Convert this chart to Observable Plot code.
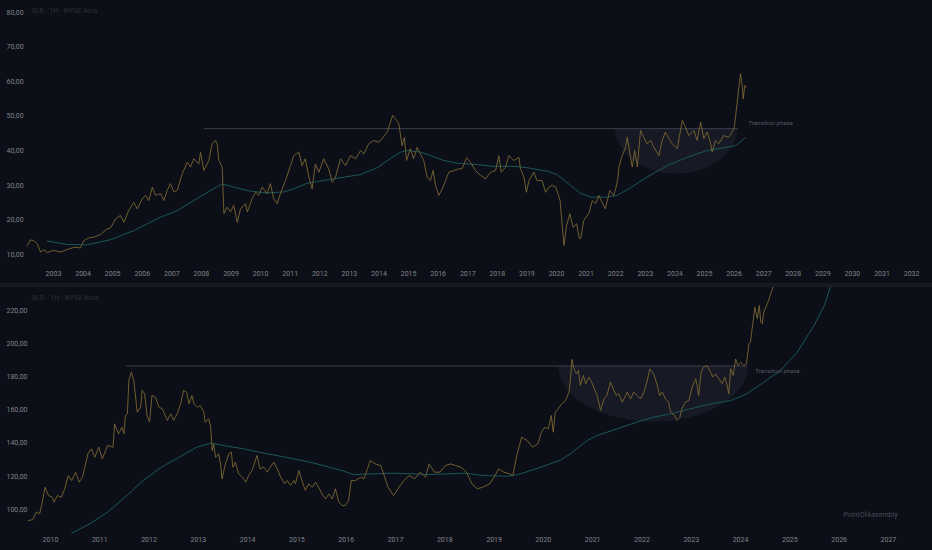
<!DOCTYPE html>
<html>
<head>
<meta charset="utf-8">
<script src="https://cdn.jsdelivr.net/npm/d3@7"></script>
<script src="https://cdn.jsdelivr.net/npm/@observablehq/plot@0.6"></script>
<style>
  html, body { margin: 0; padding: 0; background: #0c0f17; }
  #chart { width: 932px; height: 550px; position: relative; overflow: hidden; background: #0c0f17; }
  #chart svg { display: block; overflow: hidden; }
  .band { height: 4px; background: #161a23; }
</style>
</head>
<body>
<div id="chart"></div>
<script>
// ---------- DATA ----------
const xleTitle = "XLE · 1H · NYSE Arca";
const gldTitle = "GLD · 1H · NYSE Arca";
const phaseLabel = "Transition phase";
const watermark = "PointOfAssembly";

const xleYears = d3.range(2003, 2033);
const gldYears = d3.range(2010, 2028);
const xleTicks = [10, 20, 30, 40, 50, 60, 70, 80];
const gldTicks = [100, 120, 140, 160, 180, 200, 220];

// [year, price]
const xlePrice = [
  [2002.11,12.6],[2002.22,14.2],[2002.33,14.0],[2002.45,13.1],[2002.56,10.7],[2002.67,11.4],[2002.79,10.6],
  [2003.00,11.2],[2003.24,10.7],[2003.46,11.4],[2003.69,12.1],[2003.91,11.9],[2004.02,14.0],[2004.19,14.8],
  [2004.36,15.0],[2004.59,15.8],[2004.81,17.4],[2004.93,17.7],[2005.10,20.3],[2005.26,21.3],[2005.38,19.3],
  [2005.54,22.7],[2005.71,25.1],[2005.83,23.2],[2006.00,26.1],[2006.11,27.1],[2006.22,25.6],[2006.34,29.5],
  [2006.45,27.1],[2006.62,27.6],[2006.73,25.6],[2006.84,28.5],[2006.95,30.5],[2007.07,28.1],[2007.18,28.5],
  [2007.35,33.3],[2007.52,36.7],[2007.63,35.3],[2007.74,37.7],[2007.91,36.2],[2007.97,39.6],[2008.08,34.3],
  [2008.25,37.2],[2008.36,42.0],[2008.47,43.0],[2008.53,42.0],[2008.59,37.2],[2008.70,35.3],[2008.76,21.8],
  [2008.87,23.7],[2008.98,22.3],[2009.09,24.2],[2009.21,19.3],[2009.32,23.2],[2009.49,24.7],[2009.55,22.3],
  [2009.71,26.1],[2009.83,28.0],[2009.94,27.1],[2010.05,29.5],[2010.22,27.6],[2010.33,30.5],[2010.44,26.1],
  [2010.56,24.7],[2010.67,27.6],[2010.84,31.4],[2011.01,35.7],[2011.12,38.6],[2011.29,39.6],[2011.40,35.7],
  [2011.51,37.7],[2011.63,32.4],[2011.74,29.0],[2011.85,36.2],[2011.97,33.8],[2012.13,37.7],[2012.30,34.8],
  [2012.42,30.9],[2012.53,32.4],[2012.70,37.7],[2012.87,35.7],[2013.04,38.6],[2013.21,37.7],[2013.38,40.1],
  [2013.49,39.1],[2013.65,42.0],[2013.82,43.0],[2013.99,42.5],[2014.10,43.5],[2014.28,45.4],[2014.46,50.2],
  [2014.56,49.2],[2014.67,47.8],[2014.78,41.5],[2014.86,43.9],[2014.93,37.2],[2015.06,40.6],[2015.17,37.7],
  [2015.29,41.0],[2015.40,39.1],[2015.51,37.2],[2015.63,32.4],[2015.74,31.4],[2015.83,34.3],[2015.91,30.0],
  [2016.02,27.1],[2016.14,29.0],[2016.25,31.4],[2016.36,33.8],[2016.53,34.3],[2016.70,34.8],[2016.81,34.8],
  [2016.96,38.0],[2017.09,36.7],[2017.26,34.3],[2017.43,32.9],[2017.60,31.9],[2017.77,33.8],[2017.94,34.3],
  [2018.05,38.6],[2018.13,33.8],[2018.28,35.3],[2018.39,38.6],[2018.56,37.2],[2018.73,38.1],[2018.78,34.8],
  [2018.90,32.4],[2018.98,28.0],[2019.07,31.4],[2019.23,33.8],[2019.34,31.4],[2019.51,31.4],[2019.63,28.0],
  [2019.74,29.5],[2019.85,30.0],[2019.97,29.5],[2020.07,27.1],[2020.12,25.6],[2020.25,12.6],[2020.34,18.4],
  [2020.45,21.8],[2020.56,17.9],[2020.68,18.9],[2020.76,15.0],[2020.81,14.5],[2020.92,19.8],[2021.09,21.8],
  [2021.21,25.6],[2021.32,24.7],[2021.43,27.1],[2021.54,25.1],[2021.65,23.2],[2021.80,28.5],[2021.93,27.1],
  [2022.00,29.0],[2022.07,31.9],[2022.11,35.3],[2022.22,38.6],[2022.33,41.0],[2022.39,43.9],[2022.48,39.1],
  [2022.56,35.3],[2022.64,40.1],[2022.73,35.3],[2022.84,45.9],[2022.95,43.9],[2023.06,42.0],[2023.18,43.0],
  [2023.29,41.0],[2023.46,38.6],[2023.57,43.0],[2023.68,45.4],[2023.80,43.5],[2023.91,42.0],[2024.08,40.6],
  [2024.25,48.8],[2024.36,46.8],[2024.47,44.4],[2024.64,45.9],[2024.75,43.0],[2024.87,48.3],[2024.98,43.5],
  [2025.09,45.4],[2025.20,42.5],[2025.26,39.6],[2025.37,43.0],[2025.48,42.0],[2025.65,44.4],[2025.82,43.9],
  [2025.93,45.4],[2026.01,46.8],[2026.10,53.6],[2026.15,57.4],[2026.22,62.3],[2026.28,58.4],[2026.31,55.0],
  [2026.36,58.9],[2026.42,58.4]
];

const xleAverage = [
  [2002.79,13.9],[2003.46,12.9],[2004.14,12.8],[2004.93,14.3],[2005.71,16.9],[2006.62,20.8],[2007.18,22.7],
  [2007.74,25.6],[2008.31,28.5],[2008.70,30.4],[2009.09,29.5],[2009.66,28.3],[2010.22,27.8],[2010.78,28.1],
  [2011.12,29.0],[2011.57,30.6],[2012.47,31.9],[2013.37,33.1],[2013.94,35.1],[2014.20,36.7],[2014.73,39.6],
  [2014.95,40.1],[2015.40,39.6],[2015.74,38.6],[2016.19,37.2],[2016.64,36.4],[2017.32,36.0],[2017.88,35.5],
  [2018.56,35.5],[2019.01,35.1],[2019.69,34.1],[2020.02,33.1],[2020.47,30.0],[2020.81,27.7],[2021.15,26.6],
  [2021.71,26.6],[2022.05,27.1],[2022.50,29.3],[2023.06,32.4],[2023.74,35.7],[2024.41,38.1],[2025.09,40.1],
  [2025.65,40.9],[2026.05,41.5],[2026.20,42.5],[2026.39,43.9]
];

const gldPrice = [
  [2009.55,93.4],[2009.64,93.8],[2009.71,98.4],[2009.78,97.4],[2009.82,102.4],[2009.89,113.4],[2009.96,108.4],
  [2010.04,107.4],[2010.07,104.4],[2010.14,108.4],[2010.22,107.4],[2010.29,112.5],[2010.36,120.5],[2010.43,117.5],
  [2010.51,122.5],[2010.58,116.5],[2010.65,119.5],[2010.76,133.6],[2010.83,136.6],[2010.90,131.5],[2010.98,137.6],
  [2011.05,130.6],[2011.16,138.6],[2011.27,137.6],[2011.30,151.7],[2011.38,145.6],[2011.45,149.6],[2011.49,145.6],
  [2011.52,156.7],[2011.56,157.7],[2011.59,177.8],[2011.64,182.8],[2011.69,177.8],[2011.76,158.7],[2011.83,161.7],
  [2011.86,171.8],[2011.91,169.8],[2011.96,156.7],[2012.01,152.7],[2012.06,168.8],[2012.13,167.7],[2012.20,161.7],
  [2012.27,160.7],[2012.37,153.7],[2012.44,157.7],[2012.50,153.7],[2012.57,157.7],[2012.64,163.7],[2012.70,171.8],
  [2012.76,170.8],[2012.81,163.7],[2012.87,168.8],[2012.91,163.7],[2012.98,161.7],[2013.04,162.7],[2013.11,158.7],
  [2013.14,152.7],[2013.21,154.7],[2013.25,149.6],[2013.28,135.6],[2013.31,139.6],[2013.35,131.5],[2013.41,133.6],
  [2013.45,127.5],[2013.48,118.5],[2013.55,127.5],[2013.62,133.6],[2013.67,134.6],[2013.70,125.5],[2013.75,128.5],
  [2013.82,121.5],[2013.89,119.5],[2013.96,116.5],[2014.02,120.5],[2014.09,123.5],[2014.19,132.6],[2014.25,124.5],
  [2014.33,125.5],[2014.40,122.5],[2014.46,125.5],[2014.53,128.5],[2014.60,124.5],[2014.67,119.5],[2014.75,115.5],
  [2014.80,117.5],[2014.87,114.5],[2014.94,117.5],[2014.97,115.5],[2015.04,123.5],[2015.10,117.5],[2015.17,111.5],
  [2015.24,115.5],[2015.31,113.4],[2015.38,116.5],[2015.44,113.4],[2015.51,109.4],[2015.58,106.4],[2015.65,109.4],
  [2015.72,106.4],[2015.78,112.5],[2015.85,104.4],[2015.92,102.4],[2015.98,102.4],[2016.05,105.4],[2016.10,117.5],
  [2016.19,117.5],[2016.29,119.5],[2016.36,118.5],[2016.43,124.5],[2016.49,129.5],[2016.59,127.5],[2016.70,126.5],
  [2016.77,120.5],[2016.85,113.4],[2016.96,108.4],[2017.07,113.4],[2017.17,117.5],[2017.28,120.5],[2017.39,118.5],
  [2017.50,122.5],[2017.61,119.5],[2017.68,127.5],[2017.79,122.5],[2017.90,122.5],[2018.01,126.5],[2018.12,127.5],
  [2018.22,126.5],[2018.33,125.5],[2018.44,122.5],[2018.55,115.5],[2018.66,112.5],[2018.77,113.4],[2018.91,115.5],
  [2019.02,120.5],[2019.09,124.5],[2019.20,122.5],[2019.31,121.5],[2019.38,120.5],[2019.46,132.6],[2019.56,143.6],
  [2019.67,141.6],[2019.78,137.6],[2019.89,139.6],[2019.96,146.6],[2020.03,149.6],[2020.10,148.6],[2020.16,156.7],
  [2020.20,146.6],[2020.24,158.7],[2020.30,160.7],[2020.37,163.7],[2020.45,165.7],[2020.52,170.8],[2020.55,178.8],
  [2020.58,190.5],[2020.62,184.8],[2020.67,181.8],[2020.71,183.8],[2020.75,174.8],[2020.81,180.8],[2020.86,175.8],
  [2020.92,179.8],[2020.98,176.8],[2021.02,173.8],[2021.09,168.8],[2021.16,159.7],[2021.23,166.7],[2021.29,168.8],
  [2021.36,176.8],[2021.43,171.8],[2021.48,168.8],[2021.53,169.8],[2021.60,164.7],[2021.67,168.8],[2021.70,170.8],
  [2021.77,166.7],[2021.83,170.8],[2021.90,168.8],[2021.97,166.7],[2022.04,170.8],[2022.10,176.8],[2022.16,184.8],
  [2022.21,182.8],[2022.25,180.8],[2022.31,174.8],[2022.36,168.8],[2022.41,170.8],[2022.48,166.7],[2022.54,164.7],
  [2022.58,158.7],[2022.66,156.7],[2022.71,153.7],[2022.77,155.6],[2022.81,160.7],[2022.88,164.7],[2022.95,165.7],
  [2023.02,173.8],[2023.09,178.8],[2023.12,174.8],[2023.15,168.8],[2023.20,182.8],[2023.25,185.8],[2023.32,186.8],
  [2023.39,182.8],[2023.44,179.8],[2023.49,181.8],[2023.56,178.8],[2023.63,175.8],[2023.68,179.8],[2023.73,174.8],
  [2023.76,169.8],[2023.80,184.8],[2023.85,180.8],[2023.90,190.8],[2023.95,186.8],[2024.00,188.8],[2024.07,186.8],
  [2024.12,187.8],[2024.17,199.9],[2024.20,200.9],[2024.26,215.0],[2024.29,222.0],[2024.34,215.0],[2024.38,223.0],
  [2024.41,212.9],[2024.44,212.0],[2024.47,219.0],[2024.50,221.0],[2024.54,224.0],[2024.57,226.0],[2024.61,230.1],
  [2024.66,234.1]
];

const gldAverage = [
  [2010.43,85.7],[2010.80,91.4],[2011.16,98.4],[2011.59,109.5],[2011.88,117.5],[2012.25,125.5],[2012.61,131.5],
  [2012.97,137.6],[2013.26,140.0],[2013.58,138.2],[2013.92,136.6],[2014.27,134.3],[2014.78,131.5],[2015.27,128.5],
  [2015.61,125.9],[2015.95,123.1],[2016.15,121.1],[2016.96,121.9],[2017.68,121.1],[2018.41,121.9],[2018.77,120.5],
  [2019.27,120.0],[2019.49,121.1],[2019.85,124.5],[2020.35,129.8],[2020.55,133.6],[2020.89,141.6],[2021.09,144.6],
  [2021.50,148.7],[2021.90,152.7],[2022.24,155.7],[2022.58,157.7],[2022.98,160.7],[2023.39,163.7],[2023.80,165.7],
  [2024.13,169.8],[2024.47,176.8],[2024.81,183.8],[2025.15,194.9],[2025.49,211.0],[2025.70,223.0],[2025.82,234.1]
];

// resistance levels [startYear, endYear, price]
const xleLevel = [2008.10, 2026.15, 46.4];
const gldLevel = [2011.54, 2024.13, 186.5];
// rounded base (bowl) [startYear, endYear, lowPrice]
const xleBowl = [2022.00, 2026.12, 33.3];
const gldBowl = [2020.31, 2024.16, 152.7];
// label anchors [year, price]
const xlePhaseAt = [2026.49, 47.9];
const gldPhaseAt = [2024.30, 183.2];

// ---------- DRAW ----------
const GOLD = "#7b6732";
const TEAL = "#1a5659";
const AXIS = "#80838c";
const fmt = d => d.toFixed(2).replace(".", ",");
const rows = arr => arr.map(([t, v]) => ({t, v}));

function bowlRows([x1, x2, low], topY) {
  const cx = (x1 + x2) / 2, rx = (x2 - x1) / 2;
  return d3.range(0, 181, 3).map(a => {
    const r = a * Math.PI / 180;
    return {t: cx + rx * Math.cos(r), y1: topY, y2: topY - (topY - low) * Math.sin(r)};
  });
}

function panel(o) {
  return Plot.plot({
    width: 932, height: o.height,
    marginLeft: 0, marginRight: 0, marginTop: o.mt, marginBottom: o.mb,
    style: {background: "transparent", color: AXIS, fontSize: "7px", fontFamily: "Roboto, 'Open Sans', sans-serif", overflow: "hidden"},
    x: {domain: o.xDomain},
    y: {domain: o.yDomain},
    marks: [
      Plot.axisY({ticks: o.yTicks, anchor: "left", tickSize: 0, tickPadding: 0, textAnchor: "start", dx: 6, tickFormat: fmt, label: null, fill: AXIS}),
      Plot.axisX({ticks: o.xTicks, anchor: "bottom", tickSize: 0, tickPadding: o.xPad, tickFormat: d => String(d), label: null, fill: AXIS}),
      Plot.areaY(bowlRows(o.bowl, o.level[2]), {x: "t", y1: "y1", y2: "y2", fill: "#aab4d0", fillOpacity: 0.07}),
      Plot.ruleY([o.level], {x1: d => d[0], x2: d => d[1], y: d => d[2], stroke: "#3a3f4b", strokeWidth: 1}),
      Plot.line(rows(o.avg), {x: "t", y: "v", stroke: TEAL, strokeWidth: 1}),
      Plot.line(rows(o.price), {x: "t", y: "v", stroke: GOLD, strokeWidth: 0.9}),
      Plot.text([o.phaseAt], {x: d => d[0], y: d => d[1], text: () => phaseLabel, textAnchor: "start", fill: "#535864", fontSize: 6}),
      Plot.text([o.title], {frameAnchor: "top-left", dx: 31, dy: o.titleDy, lineAnchor: "middle", textAnchor: "start", fill: "#22262f", fontSize: 7, fontWeight: "bold"}),
      ...(o.mark ? [Plot.text([watermark], {frameAnchor: "bottom-right", dx: -35, dy: 5, lineAnchor: "middle", textAnchor: "end", fill: "#484d5a", fontSize: 7})] : [])
    ]
  });
}

const topPanel = panel({
  height: 283, mt: 12, mb: 29, xPad: 17,
  xDomain: [2001.209, 2032.706], yDomain: [10, 80],
  xTicks: xleYears, yTicks: xleTicks,
  price: xlePrice, avg: xleAverage, level: xleLevel, bowl: xleBowl,
  phaseAt: xlePhaseAt, title: xleTitle, titleDy: -2, mark: false
});
const bottomPanel = panel({
  height: 263, mt: 23, mb: 41, xPad: 28,
  xDomain: [2008.986, 2027.894], yDomain: [100, 220],
  xTicks: gldYears, yTicks: gldTicks,
  price: gldPrice, avg: gldAverage, level: gldLevel, bowl: gldBowl,
  phaseAt: gldPhaseAt, title: gldTitle, titleDy: -13, mark: true
});

const chart = document.getElementById("chart");
chart.appendChild(topPanel);
const band = document.createElement("div");
band.className = "band";
chart.appendChild(band);
chart.appendChild(bottomPanel);
</script>
</body>
</html>
